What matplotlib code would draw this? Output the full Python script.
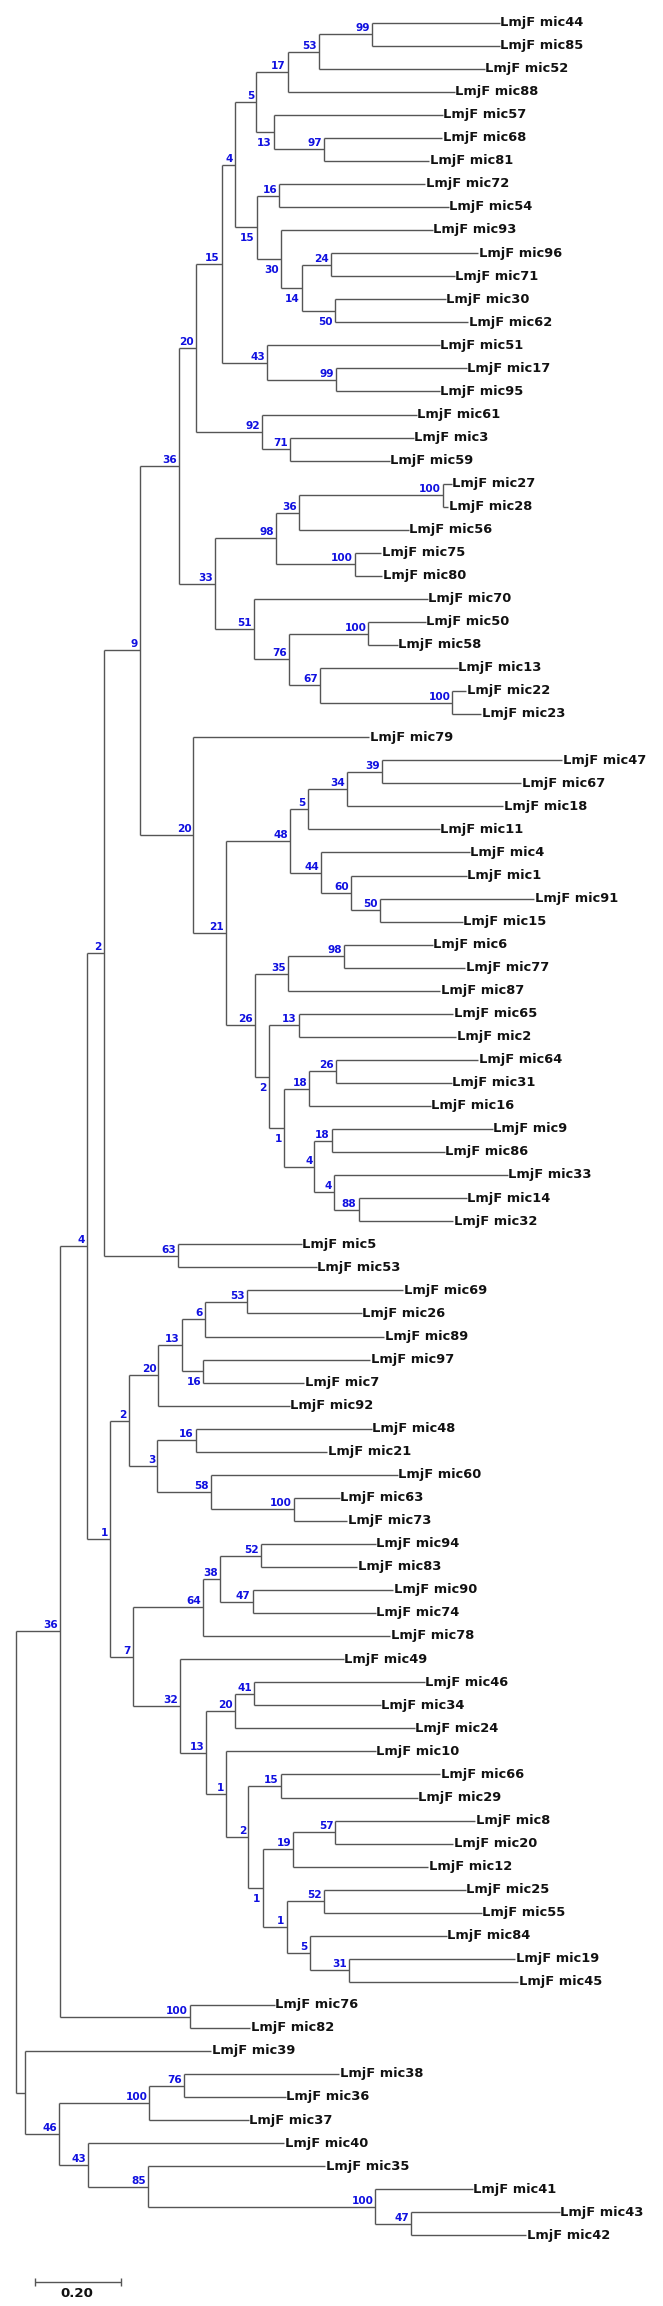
import matplotlib
matplotlib.use("Agg")
import matplotlib.pyplot as plt

# Neighbour-joining tree of LmjF mic genes, branch lengths + bootstrap (Newick pieces)
prefix = "LmjF "

clade_a = ("((((((mic44:0.297,mic85:0.297)99:0.125,mic52:0.387)53:0.072,mic88:0.390)17:0.074,"
           "(mic57:0.395,(mic68:0.275,mic81:0.245)97:0.118)13:0.041)5:0.049,"
           "((mic72:0.341,mic54:0.395)16:0.052,(mic93:0.355,((mic96:0.343,mic71:0.289)24:0.069,"
           "(mic30:0.260,mic62:0.312)50:0.077)14:0.049)30:0.055)15:0.051)4:0.031,"
           "(mic51:0.403,(mic17:0.304,mic95:0.241)99:0.162)43:0.105)15")
clade_b = "(mic61:0.361,(mic3:0.289,mic59:0.233)71:0.065)92"
clade_c = ("((((mic27:0.020,mic28:0.012)100:0.336,mic56:0.256)36:0.054,"
           "(mic75:0.062,mic80:0.064)100:0.184)98:0.141,"
           "(mic70:0.405,((mic50:0.134,mic58:0.069)100:0.186,"
           "(mic13:0.321,(mic22:0.032,mic23:0.067)100:0.308)67:0.074)76:0.081)51:0.090)33")
clade_d = ("(((((mic47:0.420,mic67:0.324)39:0.082,mic18:0.364)34:0.092,mic11:0.309)5:0.041,"
           "(mic4:0.348,(mic1:0.270,(mic91:0.361,mic15:0.194)50:0.066)60:0.071)44:0.072)48:0.149,"
           "(((mic6:0.206,mic77:0.282)98:0.132,mic87:0.356)35:0.077,"
           "((mic65:0.361,mic2:0.368)13:0.069,(((mic64:0.331,mic31:0.270)26:0.063,mic16:0.283)18:0.058,"
           "((mic9:0.375,mic86:0.263)18:0.041,(mic33:0.405,(mic14:0.252,mic32:0.221)88:0.057)4:0.046)4:0.070)1:0.036)2:0.033)26:0.067)21")
clade_e = ("(((((mic69:0.365,mic26:0.269)53:0.098,mic89:0.419)6:0.053,(mic97:0.389,mic7:0.235)16:0.050)13:0.055,"
           "mic92:0.306)20:0.069,((mic48:0.411,mic21:0.307)16:0.089,"
           "(mic60:0.436,(mic63:0.107,mic73:0.125)100:0.194)58:0.124)3:0.067)2")
clade_f = ("(((mic94:0.268,mic83:0.225)52:0.094,(mic90:0.328,mic74:0.287)47:0.075)38:0.041,mic78:0.437)64")
clade_g = ("(mic49:0.382,(((mic46:0.398,mic34:0.295)41:0.045,mic24:0.419)20:0.067,"
           "(mic10:0.348,((mic66:0.372,mic29:0.319)15:0.076,(((mic8:0.326,mic20:0.275)57:0.098,mic12:0.315)19:0.072,"
           "((mic25:0.331,mic55:0.369)52:0.087,(mic84:0.320,(mic19:0.389,mic45:0.396)31:0.091)5:0.054)1:0.056)1:0.033)2:0.051)1:0.047)13:0.061)32")
outgroup = ("(mic39:0.436,(((mic38:0.362,mic36:0.237)76:0.081,mic37:0.232)100:0.211,"
            "(mic40:0.457,(mic35:0.412,(mic41:0.227,(mic43:0.347,mic42:0.269)47:0.083)100:0.529)85:0.140)43:0.069)46:0.080)")

n36a = f"(({clade_a}:0.060,{clade_b}:0.154)20:0.039,{clade_c}:0.084)36"
n20b = f"(mic79:0.410,{clade_d}:0.076)20"
n2 = f"(({n36a}:0.092,{n20b}:0.125)9:0.084,(mic5:0.289,mic53:0.323)63:0.173)2"
n1b = f"({clade_e}:0.043,({clade_f}:0.164,{clade_g}:0.111)7:0.052)1"
n36c = f"(({n2}:0.039,{n1b}:0.054)4:0.063,(mic76:0.198,mic82:0.141)100:0.303)36"
tree_newick = f"({n36c}:0.103,{outgroup}:0.020);"

# bootstrap labels drawn under the branch (identified by first/last leaf)
below_labels = {("mic57", "mic81"), ("mic72", "mic62"), ("mic93", "mic62"),
                ("mic96", "mic62"), ("mic30", "mic62"), ("mic65", "mic32"),
                ("mic64", "mic32"), ("mic97", "mic7"), ("mic8", "mic45")}
scale_len = 0.20


def parse_newick(s):
    pos = 0

    def node():
        nonlocal pos
        n = {"children": [], "name": "", "length": 0.0}
        if s[pos] == "(":
            pos += 1
            while True:
                n["children"].append(node())
                ch = s[pos]
                pos += 1
                if ch == ")":
                    break
        start = pos
        while s[pos] not in ":,();":
            pos += 1
        n["name"] = s[start:pos]
        if s[pos] == ":":
            pos += 1
            start = pos
            while s[pos] not in ",();":
                pos += 1
            n["length"] = float(s[start:pos])
        return n

    return node()


root = parse_newick(tree_newick)
leaves = []


def layout(n, x0):
    n["x"] = x0 + n["length"]
    if n["children"]:
        for c in n["children"]:
            layout(c, n["x"])
        n["y"] = (n["children"][0]["y"] + n["children"][-1]["y"]) / 2
        n["first"] = n["children"][0]["first"]
        n["last"] = n["children"][-1]["last"]
    else:
        n["y"] = len(leaves)
        n["first"] = n["last"] = n["name"]
        leaves.append(n)


layout(root, 0.0)

# figure: 663 x 2306 px
W, H = 663, 2306
px_per_unit = 428.7
x0_px, y0_px, dy_px = 16.0, 22.7, 23.05

fig = plt.figure(figsize=(W / 100, H / 100), dpi=100)
ax = fig.add_axes([0, 0, 1, 1])
ax.set_xlim(-x0_px / px_per_unit, (W - x0_px) / px_per_unit)
ax.set_ylim((H - y0_px) / dy_px, -y0_px / dy_px)
ax.axis("off")

line_kw = dict(color="#555555", lw=1.0, solid_capstyle="butt")
pt = 72 / 100  # points per pixel
font = "DejaVu Sans"


def draw(n, parent_x):
    if parent_x is not None:
        ax.plot([parent_x, n["x"]], [n["y"], n["y"]], **line_kw)
    if n["children"]:
        ax.plot([n["x"], n["x"]], [n["children"][0]["y"], n["children"][-1]["y"]], **line_kw)
        for c in n["children"]:
            draw(c, n["x"])
        if n["name"] and parent_x is not None:
            below = (n["first"], n["last"]) in below_labels
            dy = -14 if below else 3
            ax.annotate(n["name"], (n["x"], n["y"]), xytext=(-2 * pt, dy * pt),
                        textcoords="offset points", ha="right", va="baseline",
                        fontsize=7.6, fontweight="bold", color="#1010e0",
                        family=font)
    else:
        ax.annotate(prefix + n["name"], (n["x"], n["y"]), xytext=(0.5 * pt, -3.3 * pt),
                    textcoords="offset points", ha="left", va="baseline",
                    fontsize=9.4, fontweight="bold", color="#111111",
                    family=font)


draw(root, None)

# scale bar
bar_x = (35 - x0_px) / px_per_unit
bar_y = (2282.3 - y0_px) / dy_px
ax.plot([bar_x, bar_x + scale_len], [bar_y, bar_y], **line_kw)
for bx in (bar_x, bar_x + scale_len):
    ax.plot([bx, bx], [bar_y - 4 / dy_px, bar_y + 4 / dy_px], **line_kw)
ax.annotate(f"{scale_len:.2f}", (bar_x + scale_len / 2, bar_y), xytext=(-1 * pt, -15 * pt),
            textcoords="offset points", ha="center", va="baseline",
            fontsize=9.6, fontweight="bold", color="#111111", family=font)

fig.savefig("out.png", dpi=100)
